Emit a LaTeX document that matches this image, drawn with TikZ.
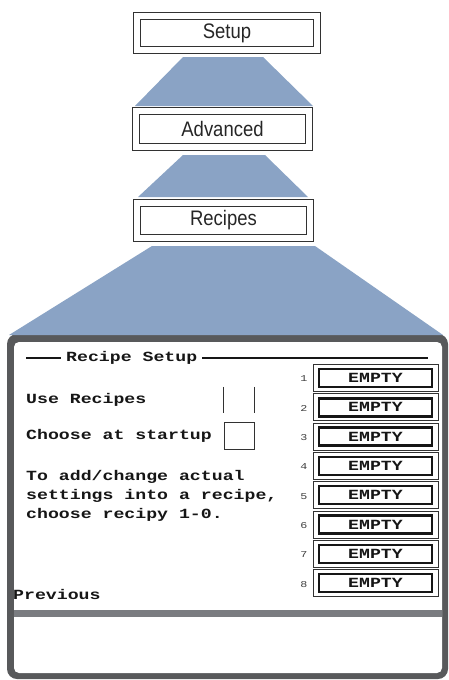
\documentclass[tikz,border=0pt]{standalone}
\usepackage{fontspec}
\setmainfont{Liberation Sans}
\newfontfamily\menufont[FakeStretch=0.88]{Liberation Sans}
\newfontfamily\lcdfont[FakeStretch=1.3]{Liberation Mono}

\definecolor{trapblue}{RGB}{138,163,197}
\definecolor{bezel}{RGB}{88,89,91}
\definecolor{bandgray}{RGB}{122,124,128}
\definecolor{boxline}{RGB}{50,50,50}
\definecolor{lcdink}{RGB}{22,22,22}

\tikzset{
  menubox/.style={draw=boxline, line width=1.3pt, double=white, double distance=5.2pt,
    inner sep=0pt, font=\menufont\fontsize{21}{21}\selectfont, text=black!85},
  funnel/.style={fill=trapblue, draw=none},
  lcdtext/.style={font=\lcdfont\bfseries\fontsize{14}{19}\selectfont, text=lcdink,
    inner sep=0pt, anchor=west, align=left},
  slotframe/.style={draw=boxline, line width=0.9pt, minimum width=125pt, minimum height=27pt, inner sep=0pt},
  slot/.style={draw=lcdink, line width=2.4pt, minimum width=113pt, minimum height=18pt, inner sep=0pt,
    font=\lcdfont\bfseries\fontsize{14}{14}\selectfont, text=lcdink},
  slotnum/.style={font=\lcdfont\fontsize{9}{9}\selectfont, text=black!75, inner sep=0pt},
  checkbox/.style={minimum width=30pt, minimum height=26pt, inner sep=0pt},
}

\begin{document}
\begin{tikzpicture}[x=1pt, y=-1pt]
\useasboundingbox (0,0) rectangle (449,680);

% menu path
\node[menubox, minimum width=180pt, minimum height=34pt] (setup)    at (227,33)    {Setup};
\node[menubox, minimum width=173pt, minimum height=36pt] (advanced) at (222.5,129) {Advanced};
\node[menubox, minimum width=173pt, minimum height=35pt] (recipes)  at (223.5,220.5) {Recipes};

% display bezel and screen area
\fill[bezel, rounded corners=10pt] (7,334) rectangle (448,679);
\fill[white, rounded corners=5pt] (14,342) rectangle (442,673);
\fill[bandgray] (14,610) rectangle (442,617);

% funnels between the levels
\fill[funnel] (183,57) -- (263,57) -- (313,106) -- (135,106) -- cycle;
\fill[funnel] (183,155) -- (265,155) -- (308,197) -- (138,197) -- cycle;
\fill[funnel] (152,246) -- (315,246) -- (443,335) -- (9,335) -- cycle;

% title rule
\node[lcdtext] (rtitle) at (66,358) {Recipe Setup};
\coordinate (ruleL) at (26,358);
\coordinate (ruleR) at (428,358);
\draw[lcdink, line width=1.1pt] (ruleL) -- ([xshift=-5pt]rtitle.west);
\draw[lcdink, line width=1.1pt] ([xshift=5pt]rtitle.east) -- (ruleR);

% options
\node[lcdtext] (usetxt) at (26,400) {Use Recipes};
\node[lcdtext] (choosetxt) at (26,436) {Choose at startup};
\node[checkbox] (usebox) at (239,400) {};
\draw[boxline, line width=1pt] (usebox.north west) -- (usebox.south west)
  (usebox.north east) -- (usebox.south east);
\node[checkbox, draw=boxline, line width=1pt, minimum height=27pt] (choosebox) at (239,436) {};

\node[lcdtext] (hint) at (26,496) {To add/change actual\\settings into a recipe,\\choose recipy 1-0.};
\node[lcdtext] (prev) at (13,594) {Previous};

% recipe slots
\foreach \i in {1,...,8} {
  \pgfmathsetmacro{\yy}{378+29.3*(\i-1)}
  \node[slotframe] (frame\i) at (375.5,\yy) {};
  \node[slot] (slot\i) at (375.5,\yy) {EMPTY};
  \node[slotnum] (num\i) at (304,\yy+1) {\i};
}
\end{tikzpicture}
\end{document}
